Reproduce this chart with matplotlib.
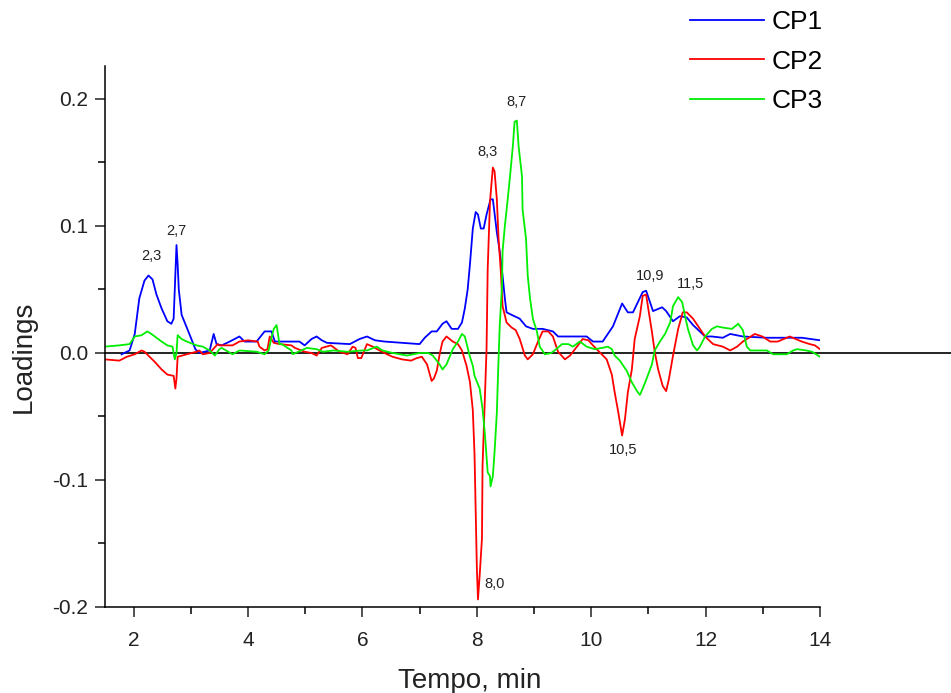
import matplotlib
matplotlib.use('Agg')
import matplotlib.pyplot as plt
from matplotlib.ticker import MultipleLocator

plt.rcParams['font.family'] = ['Liberation Sans', 'DejaVu Sans']

# ===== DANE =====
cp1_t = [1.79, 1.93, 2.02, 2.10, 2.19, 2.26, 2.33, 2.40, 2.49, 2.59,
         2.66, 2.70, 2.72, 2.75, 2.77, 2.79, 2.84, 2.93, 3.01, 3.08,
         3.15, 3.33, 3.40, 3.45, 3.54, 3.68, 3.85, 3.94, 4.15, 4.29,
         4.41, 4.47, 4.90, 4.99, 5.11, 5.20, 5.29, 5.38, 5.78, 5.95,
         6.08, 6.22, 6.39, 7.00, 7.09, 7.21, 7.30, 7.40, 7.47, 7.56,
         7.67, 7.74, 7.79, 7.84, 7.88, 7.93, 7.98, 8.02, 8.07, 8.12,
         8.17, 8.24, 8.28, 8.31, 8.35, 8.40, 8.45, 8.49, 8.52, 8.61,
         8.75, 8.86, 8.98, 9.15, 9.33, 9.42, 9.92, 10.03, 10.14, 10.20,
         10.38, 10.54, 10.64, 10.73, 10.90, 10.96, 11.08, 11.24, 11.31, 11.43,
         11.55, 11.67, 11.78, 11.99, 12.11, 12.30, 12.43, 12.65, 13.07, 13.42,
         13.68, 14.00]
cp1_v = [-0.001, 0.002, 0.015, 0.043, 0.057, 0.061, 0.058, 0.046, 0.035, 0.025,
         0.023, 0.027, 0.050, 0.085, 0.070, 0.050, 0.030, 0.020, 0.011, 0.003,
         0.000, 0.002, 0.015, 0.007, 0.006, 0.009, 0.013, 0.009, 0.009, 0.017,
         0.017, 0.009, 0.009, 0.006, 0.011, 0.013, 0.010, 0.008, 0.007, 0.011,
         0.013, 0.010, 0.009, 0.007, 0.012, 0.017, 0.017, 0.023, 0.025, 0.019,
         0.019, 0.024, 0.035, 0.050, 0.070, 0.098, 0.111, 0.109, 0.098, 0.098,
         0.109, 0.121, 0.121, 0.110, 0.095, 0.080, 0.061, 0.043, 0.032, 0.030,
         0.027, 0.021, 0.019, 0.019, 0.017, 0.013, 0.013, 0.009, 0.009, 0.009,
         0.021, 0.039, 0.032, 0.032, 0.048, 0.049, 0.033, 0.036, 0.033, 0.025,
         0.029, 0.028, 0.022, 0.013, 0.013, 0.012, 0.015, 0.013, 0.012, 0.012,
         0.012, 0.010]

cp2_t = [1.49, 1.75, 1.88, 2.02, 2.14, 2.19, 2.28, 2.37, 2.49, 2.59,
         2.70, 2.73, 2.75, 2.77, 2.93, 3.10, 3.15, 3.21, 3.33, 3.47,
         3.50, 3.73, 3.85, 4.00, 4.17, 4.20, 4.29, 4.34, 4.38, 4.45,
         4.55, 4.76, 4.82, 4.99, 5.11, 5.20, 5.29, 5.45, 5.60, 5.74,
         5.83, 5.88, 5.92, 5.98, 6.08, 6.18, 6.30, 6.43, 6.53, 6.69,
         6.85, 6.95, 7.04, 7.13, 7.21, 7.25, 7.30, 7.35, 7.40, 7.47,
         7.58, 7.67, 7.74, 7.82, 7.88, 7.93, 7.96, 7.98, 8.00, 8.02,
         8.05, 8.09, 8.10, 8.14, 8.17, 8.19, 8.23, 8.26, 8.28, 8.31,
         8.35, 8.38, 8.42, 8.45, 8.52, 8.61, 8.68, 8.75, 8.84, 8.89,
         8.98, 9.07, 9.15, 9.25, 9.33, 9.42, 9.54, 9.63, 9.75, 9.85,
         9.95, 10.03, 10.14, 10.27, 10.36, 10.41, 10.47, 10.54, 10.59, 10.64,
         10.71, 10.76, 10.85, 10.90, 10.96, 10.99, 11.06, 11.11, 11.17, 11.25,
         11.31, 11.36, 11.43, 11.52, 11.60, 11.67, 11.78, 11.87, 11.99, 12.13,
         12.30, 12.43, 12.55, 12.65, 12.86, 12.99, 13.13, 13.26, 13.47, 13.68,
         13.82, 13.91, 14.00]
cp2_v = [-0.005, -0.006, -0.003, -0.001, 0.002, 0.001, -0.003, -0.007, -0.013, -0.017,
         -0.018, -0.028, -0.020, -0.003, -0.001, 0.001, 0.002, -0.001, 0.000, 0.007,
         0.006, 0.006, 0.009, 0.010, 0.009, 0.005, 0.002, 0.003, 0.013, 0.008,
         0.007, 0.006, 0.004, 0.001, 0.000, -0.002, 0.004, 0.006, 0.001, -0.001,
         0.005, 0.004, -0.004, -0.004, 0.007, 0.005, 0.002, -0.001, -0.003, -0.005,
         -0.006, -0.004, -0.003, -0.009, -0.022, -0.020, -0.014, -0.001, 0.009, 0.013,
         0.009, 0.007, 0.002, -0.010, -0.023, -0.045, -0.080, -0.125, -0.168, -0.194,
         -0.175, -0.146, -0.089, -0.036, 0.003, 0.066, 0.119, 0.135, 0.146, 0.143,
         0.121, 0.090, 0.064, 0.037, 0.024, 0.020, 0.018, 0.011, -0.002, -0.005,
         -0.001, 0.009, 0.017, 0.017, 0.013, 0.001, -0.005, -0.002, 0.005, 0.011,
         0.010, 0.006, 0.001, -0.005, -0.017, -0.031, -0.046, -0.065, -0.052, -0.031,
         -0.013, 0.011, 0.029, 0.045, 0.046, 0.037, 0.017, 0.001, -0.013, -0.026,
         -0.030, -0.020, -0.002, 0.019, 0.032, 0.032, 0.027, 0.021, 0.013, 0.007,
         0.005, 0.002, 0.005, 0.009, 0.015, 0.013, 0.009, 0.009, 0.013, 0.009,
         0.007, 0.006, 0.003]

cp3_t = [1.49, 1.75, 1.93, 2.02, 2.14, 2.24, 2.31, 2.40, 2.49, 2.59,
         2.68, 2.72, 2.75, 2.77, 2.84, 2.93, 3.10, 3.21, 3.33, 3.42,
         3.50, 3.54, 3.73, 3.85, 4.15, 4.29, 4.36, 4.41, 4.45, 4.50,
         4.55, 4.59, 4.76, 4.78, 5.03, 5.20, 5.31, 5.50, 5.73, 6.00,
         6.08, 6.25, 6.35, 6.53, 6.78, 7.00, 7.15, 7.23, 7.35, 7.40,
         7.47, 7.58, 7.67, 7.74, 7.79, 7.88, 7.93, 7.96, 8.05, 8.10,
         8.14, 8.17, 8.19, 8.23, 8.24, 8.28, 8.31, 8.35, 8.37, 8.40,
         8.44, 8.45, 8.49, 8.54, 8.58, 8.63, 8.66, 8.70, 8.73, 8.79,
         8.80, 8.86, 8.89, 8.93, 8.98, 9.05, 9.10, 9.19, 9.30, 9.36,
         9.49, 9.60, 9.68, 9.80, 9.92, 10.06, 10.19, 10.29, 10.36, 10.41,
         10.50, 10.62, 10.71, 10.80, 10.85, 10.90, 10.97, 11.06, 11.11, 11.20,
         11.29, 11.38, 11.43, 11.52, 11.59, 11.64, 11.69, 11.78, 11.85, 11.90,
         11.99, 12.11, 12.20, 12.30, 12.46, 12.57, 12.65, 12.72, 12.78, 13.07,
         13.18, 13.42, 13.53, 13.60, 13.76, 13.86, 14.00]
cp3_v = [0.005, 0.006, 0.007, 0.013, 0.014, 0.017, 0.015, 0.012, 0.009, 0.006,
         0.005, -0.005, 0.000, 0.014, 0.011, 0.009, 0.006, 0.005, 0.002, -0.002,
         0.003, 0.004, -0.001, 0.002, 0.001, -0.001, 0.002, 0.012, 0.019, 0.022,
         0.007, 0.007, 0.002, -0.001, 0.004, 0.003, 0.001, 0.002, 0.001, 0.002,
         0.002, 0.005, 0.002, 0.000, -0.002, 0.000, 0.000, -0.002, -0.009, -0.013,
         -0.009, 0.003, 0.009, 0.015, 0.013, -0.003, -0.010, -0.018, -0.028, -0.044,
         -0.063, -0.081, -0.094, -0.097, -0.105, -0.097, -0.078, -0.047, -0.018, 0.021,
         0.053, 0.080, 0.100, 0.121, 0.139, 0.163, 0.182, 0.183, 0.163, 0.139,
         0.113, 0.090, 0.061, 0.043, 0.027, 0.017, 0.005, -0.001, 0.000, 0.002,
         0.007, 0.007, 0.005, 0.009, 0.005, 0.003, 0.004, 0.005, 0.003, -0.002,
         -0.006, -0.014, -0.023, -0.030, -0.033, -0.028, -0.020, -0.009, 0.002, 0.009,
         0.015, 0.024, 0.037, 0.044, 0.040, 0.029, 0.019, 0.006, 0.002, 0.005,
         0.013, 0.019, 0.021, 0.020, 0.019, 0.023, 0.018, 0.005, 0.002, 0.002,
         -0.001, -0.001, 0.002, 0.003, 0.002, 0.001, -0.003]

# etykiety pikow: tekst, czas, wartosc
peak_labels = ['2,3', '2,7', '8,3', '8,7', '8,0', '10,9', '11,5', '10,5']
peak_t = [2.31, 2.75, 8.19, 8.70, 8.31, 11.03, 11.73, 10.55]
peak_v = [0.076, 0.096, 0.158, 0.198, -0.182, 0.061, 0.054, -0.076]

# ===== WYKRES =====
fig = plt.figure(figsize=(9.51, 6.93), dpi=100)
ax = fig.add_axes([0.1104, 0.1241, 0.7519, 0.7807])

ax.plot(cp1_t, cp1_v, color='#0000ff', lw=1.3, label='CP1')
ax.plot(cp2_t, cp2_v, color='#ff0000', lw=1.3, label='CP2')
ax.plot(cp3_t, cp3_v, color='#00ee00', lw=1.3, label='CP3')

# linia zero wychodzi poza os
ax.axhline(0, xmin=0, xmax=1.183, color='#222222', lw=1.4, clip_on=False, zorder=1)

for lab, t, v in zip(peak_labels, peak_t, peak_v):
    ax.text(t, v, lab, fontsize=10.5, ha='center', va='center', color='#222222')

ax.set_xlim(1.5, 14)
ax.set_ylim(-0.2, 0.226)
ax.xaxis.set_major_locator(MultipleLocator(2))
ax.xaxis.set_minor_locator(MultipleLocator(1))
ax.yaxis.set_minor_locator(MultipleLocator(0.05))
ax.set_yticks([-0.2, -0.1, 0.0, 0.1, 0.2])
ax.set_yticklabels(['-0.2', '-0.1', '0.0', '0.1', '0.2'])

ax.spines['top'].set_visible(False)
ax.spines['right'].set_visible(False)
ax.spines['left'].set_linewidth(1.1)
ax.spines['bottom'].set_linewidth(1.1)
ax.tick_params(which='major', direction='out', length=7, width=1.1, labelsize=15, colors='#222222')
ax.tick_params(which='minor', direction='out', length=5, width=1.1)
ax.tick_params(axis='x', which='major', pad=10)
ax.tick_params(axis='y', which='major', pad=5)

ax.set_xlabel('Tempo, min', fontsize=20, color='#222222')
ax.set_ylabel('Loadings', fontsize=20, color='#222222')
ax.xaxis.set_label_coords(0.5105, -0.112)
ax.yaxis.set_label_coords(-0.095, 0.462)

fig.legend(loc='upper left', bbox_to_anchor=(690 / 951, 0.985), frameon=False,
           fontsize=19, handlelength=2.8, handletextpad=0.3, labelspacing=0.58,
           borderpad=0, borderaxespad=0)

plt.savefig('out.png', dpi=100)
